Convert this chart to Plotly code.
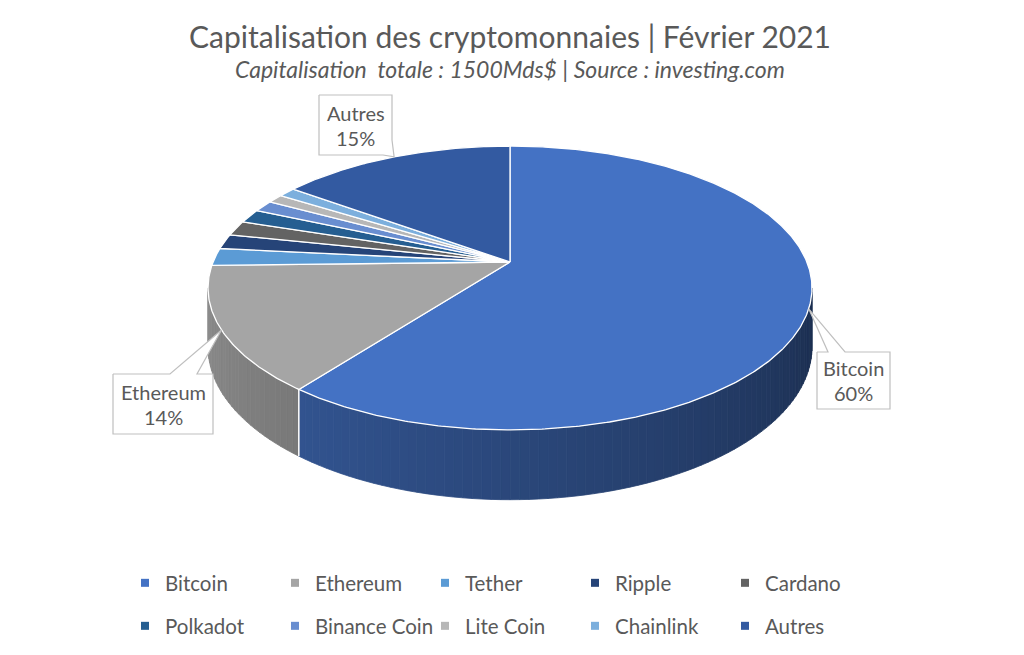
import math
import numpy as np
import plotly.graph_objects as go

# ---------------- data ----------------
categories = ["Bitcoin", "Ethereum", "Tether", "Ripple", "Cardano",
              "Polkadot", "Binance Coin", "Lite Coin", "Chainlink", "Autres"]
shares = [60.4, 14.2, 2.0, 1.7, 1.7, 1.6, 1.3, 1.0, 1.1, 15.0]
colors = ["#4472C4", "#A5A5A5", "#5B9BD5", "#264478", "#636363",
          "#255E91", "#698ED0", "#B7B7B7", "#7CAFDD", "#335AA1"]
callout_names = ["Bitcoin", "Ethereum", "Autres"]
title_text = "Capitalisation des cryptomonnaies | Février 2021"
subtitle_text = "Capitalisation  totale : 1500Mds$ | Source : investing.com"

# ---------------- layout constants ----------------
BODY = 8                      # default page margin of the html body
FW, FH = 1024 - 2 * BODY, 655 - 2 * BODY
ML, MR = 104, 104             # plot area spans page pixels 112..912
PX0 = BODY + ML
PX1 = BODY + FW - MR
PY0, PY1 = BODY, BODY + FH
CX, CY = 510.0, 262.0          # projected pie centre (page pixels)
F, G, K, DEPTH = 296.9, 137.2, 0.183, 57.0   # perspective projection params
FONT = "Lato"
TXT = "#595959"
EDGE = "#BFBFBF"

# callout boxes (left, top, right, bottom) and tail base points
callout_boxes = {
    "Bitcoin": dict(box=(817, 352, 890, 409), tail=[(828, 352), (845, 352)], side="top"),
    "Ethereum": dict(box=(113, 374, 213, 434), tail=[(170, 374), (197, 374)], side="top"),
    "Autres": dict(box=(319, 95, 392, 155), tail=[(392, 140), (383, 155)], side="br"),
}


def proj(theta_deg, level):
    t = np.radians(theta_deg)
    x = np.cos(t)
    z = np.sin(t)
    den = 1 + K * z
    return CX + F * x / den, CY - (G * z - DEPTH * level) / den


def shade(hexc, f):
    hexc = hexc.lstrip("#")
    r, g, b = (int(hexc[i:i + 2], 16) for i in (0, 2, 4))
    return "rgb(%d,%d,%d)" % (round(r * f), round(g * f), round(b * f))


total = float(sum(shares))
cum = np.concatenate([[0.0], np.cumsum(shares)]) / total
starts = 90 - 360 * cum[:-1]
ends = 90 - 360 * cum[1:]

th_right = -math.degrees(math.asin(K))
th_left = -180 + math.degrees(math.asin(K))


def side_factor(theta):
    d = theta % 360
    return 0.85 - 0.45 * (d - (th_left % 360)) / ((th_right % 360) - (th_left % 360))


fig = go.Figure()

# ---- cylinder sides ----
for i, cat in enumerate(categories):
    hi = min(starts[i], th_right)
    lo = max(ends[i], th_left)
    if lo >= hi:
        continue
    n = max(1, int(math.ceil((hi - lo) / 1.5)))
    step = (hi - lo) / n
    for j in range(n):
        a = hi - j * step
        b = a - step
        xa0, ya0 = proj(a, 0)
        xb0, yb0 = proj(b, 0)
        xb1, yb1 = proj(b, 1)
        xa1, ya1 = proj(a, 1)
        c = shade(colors[i], side_factor((a + b) / 2))
        fig.add_trace(go.Scatter(
            x=[xa0, xb0, xb1, xa1, xa0], y=[ya0, yb0, yb1, ya1, ya0],
            mode="lines", fill="toself", fillcolor=c,
            line=dict(color=c, width=0.8), hoverinfo="skip", showlegend=False))

# seams on the side
for th in list(starts):
    if th_left < th < th_right:
        x0, y0 = proj(th, 0)
        x1, y1 = proj(th, 1)
        fig.add_trace(go.Scatter(x=[x0, x1], y=[y0, y1], mode="lines",
                                 line=dict(color="white", width=1.5),
                                 hoverinfo="skip", showlegend=False))

# ---- top faces ----
for i, cat in enumerate(categories):
    n = max(2, int(math.ceil((starts[i] - ends[i]) / 0.5)))
    ths = np.linspace(starts[i], ends[i], n + 1)
    xs, ys = proj(ths, 0)
    px = [CX] + list(xs) + [CX]
    py = [CY] + list(ys) + [CY]
    fig.add_trace(go.Scatter(
        x=px, y=py, mode="lines", fill="toself", fillcolor=colors[i],
        line=dict(color="white", width=1.3), name=cat,
        hovertemplate="%s: %.1f%%<extra></extra>" % (cat, shares[i] / total * 100),
        showlegend=False))

# ---- callouts ----
annotations = []
for name in callout_names:
    i = categories.index(name)
    mid = (starts[i] + ends[i]) / 2
    tx, ty = proj(mid, 0)
    L, T, R, B = callout_boxes[name]["box"]
    (b1x, b1y), (b2x, b2y) = callout_boxes[name]["tail"]
    if callout_boxes[name]["side"] == "top":
        px = [L, b1x, tx, b2x, R, R, L, L]
        py = [T, b1y, ty, b2y, T, B, B, T]
    else:
        px = [L, R, b1x, tx, b2x, L, L]
        py = [T, T, b1y, ty, b2y, B, T]
    fig.add_trace(go.Scatter(x=px, y=py, mode="lines", fill="toself",
                             fillcolor="white", line=dict(color=EDGE, width=1.2),
                             hoverinfo="skip", showlegend=False))
    pct = "%d%%" % round(shares[i] / total * 100)
    cxb = (L + R) / 2
    cyb = (T + B) / 2
    for txt, dy in ((name, -12.5), (pct, 12.5)):
        annotations.append(dict(x=cxb, y=cyb + dy, text=txt, showarrow=False,
                                xref="x", yref="y", xanchor="center", yanchor="middle",
                                font=dict(family=FONT, size=20, color=TXT)))

# ---- legend entries ----
for i, cat in enumerate(categories):
    fig.add_trace(go.Scatter(
        x=[None], y=[None], mode="markers", name=cat,
        marker=dict(symbol="square", size=8, color=colors[i]),
        legend="legend" if i < 5 else "legend2", showlegend=True))

# ---- titles ----
annotations.append(dict(x=510, y=36, text=title_text, showarrow=False, xref="x", yref="y",
                        xanchor="center", yanchor="middle",
                        font=dict(family=FONT, size=30, color=TXT)))
annotations.append(dict(x=510, y=69, text="<i>%s</i>" % subtitle_text, showarrow=False,
                        xref="x", yref="y", xanchor="center", yanchor="middle",
                        font=dict(family=FONT, size=23, color=TXT)))


def paper_y(pix):
    return 1 - (pix - PY0) / (PY1 - PY0)


leg_common = dict(orientation="h", xanchor="left", yanchor="middle",
                  x=(125 - PX0) / (PX1 - PX0),
                  entrywidth=105, entrywidthmode="pixels", bgcolor="rgba(0,0,0,0)",
                  font=dict(family=FONT, size=20.5, color=TXT), itemclick=False)

fig.update_layout(
    width=FW, height=FH,
    margin=dict(l=ML, r=MR, t=0, b=0, pad=0, autoexpand=False),
    paper_bgcolor="white", plot_bgcolor="white",
    xaxis=dict(range=[PX0, PX1], visible=False, fixedrange=True),
    yaxis=dict(range=[PY1, PY0], visible=False, fixedrange=True),
    legend=dict(y=paper_y(583), **leg_common),
    legend2=dict(y=paper_y(626), **leg_common),
    annotations=annotations,
    showlegend=True,
)

fig.write_html("out.html")
